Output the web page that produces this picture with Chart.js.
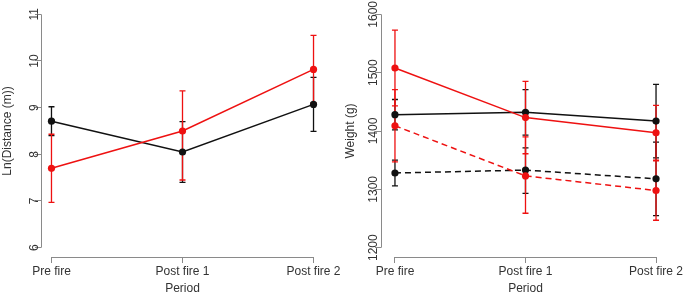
<!DOCTYPE html>
<html>
<head>
<meta charset="utf-8">
<script src="https://cdn.jsdelivr.net/npm/chart.js@4/dist/chart.umd.min.js"></script>
<style>
  html, body { margin: 0; padding: 0; background: #fff; }
  body { width: 685px; height: 296px; position: relative; overflow: hidden; }
  .box { position: absolute; top: 0; height: 296px; }
  #b1 { left: 0; width: 346px; }
  #b2 { left: 340px; width: 345px; }
</style>
</head>
<body>
<div class="box" id="b1"><canvas id="c1" width="346" height="296"></canvas></div>
<div class="box" id="b2"><canvas id="c2" width="345" height="296"></canvas></div>
<script>
// ---- data ----
const periods = ['Pre fire', 'Post fire 1', 'Post fire 2'];
const periodPos = [1, 2, 3];

const distTicks = [6, 7, 8, 9, 10, 11];
const distBlack = [8.71, 8.05, 9.07];
const distBlackLo = [8.40, 7.40, 8.49];
const distBlackHi = [9.02, 8.70, 9.65];
const distRed = [7.70, 8.50, 9.82];
const distRedLo = [6.97, 7.45, 9.10];
const distRedHi = [8.43, 9.36, 10.55];

const weightTicks = [1200, 1300, 1400, 1500, 1600];
const wBlackSolid = [1428, 1432, 1417];
const wBlackSolidLo = [1402, 1393, 1354];
const wBlackSolidHi = [1454, 1471, 1480];
const wRedSolid = [1508, 1423, 1397];
const wRedSolidLo = [1443, 1361, 1350];
const wRedSolidHi = [1573, 1485, 1444];
const wBlackDash = [1328, 1333, 1318];
const wBlackDashLo = [1306, 1293, 1255];
const wBlackDashHi = [1350, 1371, 1381];
const wRedDash = [1409, 1323, 1298];
const wRedDashLo = [1347, 1259, 1247];
const wRedDashHi = [1471, 1390, 1349];

// ---- styling ----
const RED = '#ee1111';
const BLACK = '#111111';
const AXIS = '#8a8a8a';
const TXT = '#333333';
const FONT = { family: '"Liberation Sans", Arial, sans-serif', size: 12 };

function pts(vals) { return vals.map((v, i) => ({ x: periodPos[i], y: v })); }

function ds(vals, lo, hi, color, dashed) {
  return {
    data: pts(vals),
    errLo: lo, errHi: hi,
    borderColor: color,
    backgroundColor: color,
    pointBackgroundColor: color,
    pointBorderColor: color,
    pointRadius: 3.6,
    pointBorderWidth: 0,
    borderWidth: 1.5,
    borderDash: dashed ? [6, 4] : [],
    tension: 0,
    fill: false
  };
}

const rPlugin = {
  id: 'rstyle',
  beforeDraw(chart) {
    const c = chart.ctx;
    c.save();
    c.fillStyle = '#fff';
    c.fillRect(0, 0, chart.width, chart.height);
    c.restore();
  },
  beforeDatasetsDraw(chart) {
    const c = chart.ctx, xs = chart.scales.x, ys = chart.scales.y;
    c.save();
    for (let d = chart.data.datasets.length - 1; d >= 0; d--) {
      const set = chart.data.datasets[d];
      c.strokeStyle = set.borderColor;
      c.lineWidth = 1.3;
      c.setLineDash([]);
      set.data.forEach((p, i) => {
        const x = xs.getPixelForValue(p.x);
        const y1 = ys.getPixelForValue(set.errLo[i]);
        const y2 = ys.getPixelForValue(set.errHi[i]);
        c.beginPath();
        c.moveTo(x, y1); c.lineTo(x, y2);
        c.moveTo(x - 3, y1); c.lineTo(x + 3, y1);
        c.moveTo(x - 3, y2); c.lineTo(x + 3, y2);
        c.stroke();
      });
    }
    c.restore();
  },
  afterDraw(chart) {
    const c = chart.ctx, xs = chart.scales.x, ys = chart.scales.y, a = chart.chartArea;
    const yt = chart.options.yTickVals;
    c.save();
    c.strokeStyle = AXIS;
    c.lineWidth = 1;
    c.beginPath();
    c.moveTo(a.left + 0.5, ys.getPixelForValue(yt[0]));
    c.lineTo(a.left + 0.5, ys.getPixelForValue(yt[yt.length - 1]));
    c.moveTo(xs.getPixelForValue(periodPos[0]), a.bottom + 0.5);
    c.lineTo(xs.getPixelForValue(periodPos[periodPos.length - 1]), a.bottom + 0.5);
    c.stroke();
    c.restore();
  }
};

function makeChart(id, datasets, cfg) {
  return new Chart(document.getElementById(id), {
    type: 'line',
    data: { datasets },
    plugins: [rPlugin],
    options: {
      yTickVals: cfg.yTicks,
      responsive: false,
      animation: false,
      events: [],
      layout: { padding: { top: 5, right: cfg.padRight, left: 0, bottom: 0 } },
      plugins: { legend: { display: false }, tooltip: { enabled: false } },
      scales: {
        x: {
          type: 'linear',
          min: cfg.xMin, max: cfg.xMax,
          afterBuildTicks: s => { s.ticks = periodPos.map(v => ({ value: v })); },
          afterFit: s => { s.height = 39; s.paddingLeft = 0; s.paddingRight = 0; },
          border: { display: false },
          grid: { display: true, drawOnChartArea: false, drawTicks: true, tickLength: 6, color: AXIS },
          ticks: {
            color: TXT, font: FONT, padding: 1, maxRotation: 0, minRotation: 0, autoSkip: false,
            callback: v => periods[periodPos.indexOf(v)]
          },
          title: { display: true, text: 'Period', color: TXT, font: FONT, padding: { top: 5, bottom: 0 } }
        },
        y: {
          type: 'linear',
          min: cfg.yMin, max: cfg.yMax,
          afterBuildTicks: s => { s.ticks = cfg.yTicks.map(v => ({ value: v })); },
          afterFit: s => { s.width = 41; s.paddingTop = 0; s.paddingBottom = 0; },
          border: { display: false },
          grid: { display: true, drawOnChartArea: false, drawTicks: true, tickLength: 6, color: AXIS },
          ticks: {
            color: TXT, font: FONT, minRotation: 90, maxRotation: 90,
            crossAlign: 'center', padding: cfg.tickPad, autoSkip: false,
            callback: v => String(v)
          },
          title: { display: true, text: cfg.yTitle, color: TXT, font: FONT, padding: { top: cfg.titlePad, bottom: 0 } }
        }
      }
    }
  });
}

makeChart('c1', [
  ds(distRed, distRedLo, distRedHi, RED, false),
  ds(distBlack, distBlackLo, distBlackHi, BLACK, false)
], { xMin: 0.92, xMax: 3.08, yMin: 5.8, yMax: 11.2, yTicks: distTicks,
     yTitle: 'Ln(Distance (m))', padRight: 22, tickPad: -6, titlePad: 0 });

makeChart('c2', [
  ds(wRedSolid, wRedSolidLo, wRedSolidHi, RED, false),
  ds(wRedDash, wRedDashLo, wRedDashHi, RED, true),
  ds(wBlackSolid, wBlackSolidLo, wBlackSolidHi, BLACK, false),
  ds(wBlackDash, wBlackDashLo, wBlackDashHi, BLACK, true)
], { xMin: 0.893, xMax: 3.107, yMin: 1184, yMax: 1616, yTicks: weightTicks,
     yTitle: 'Weight (g)', padRight: 15, tickPad: -12, titlePad: 3 });
</script>
</body>
</html>
